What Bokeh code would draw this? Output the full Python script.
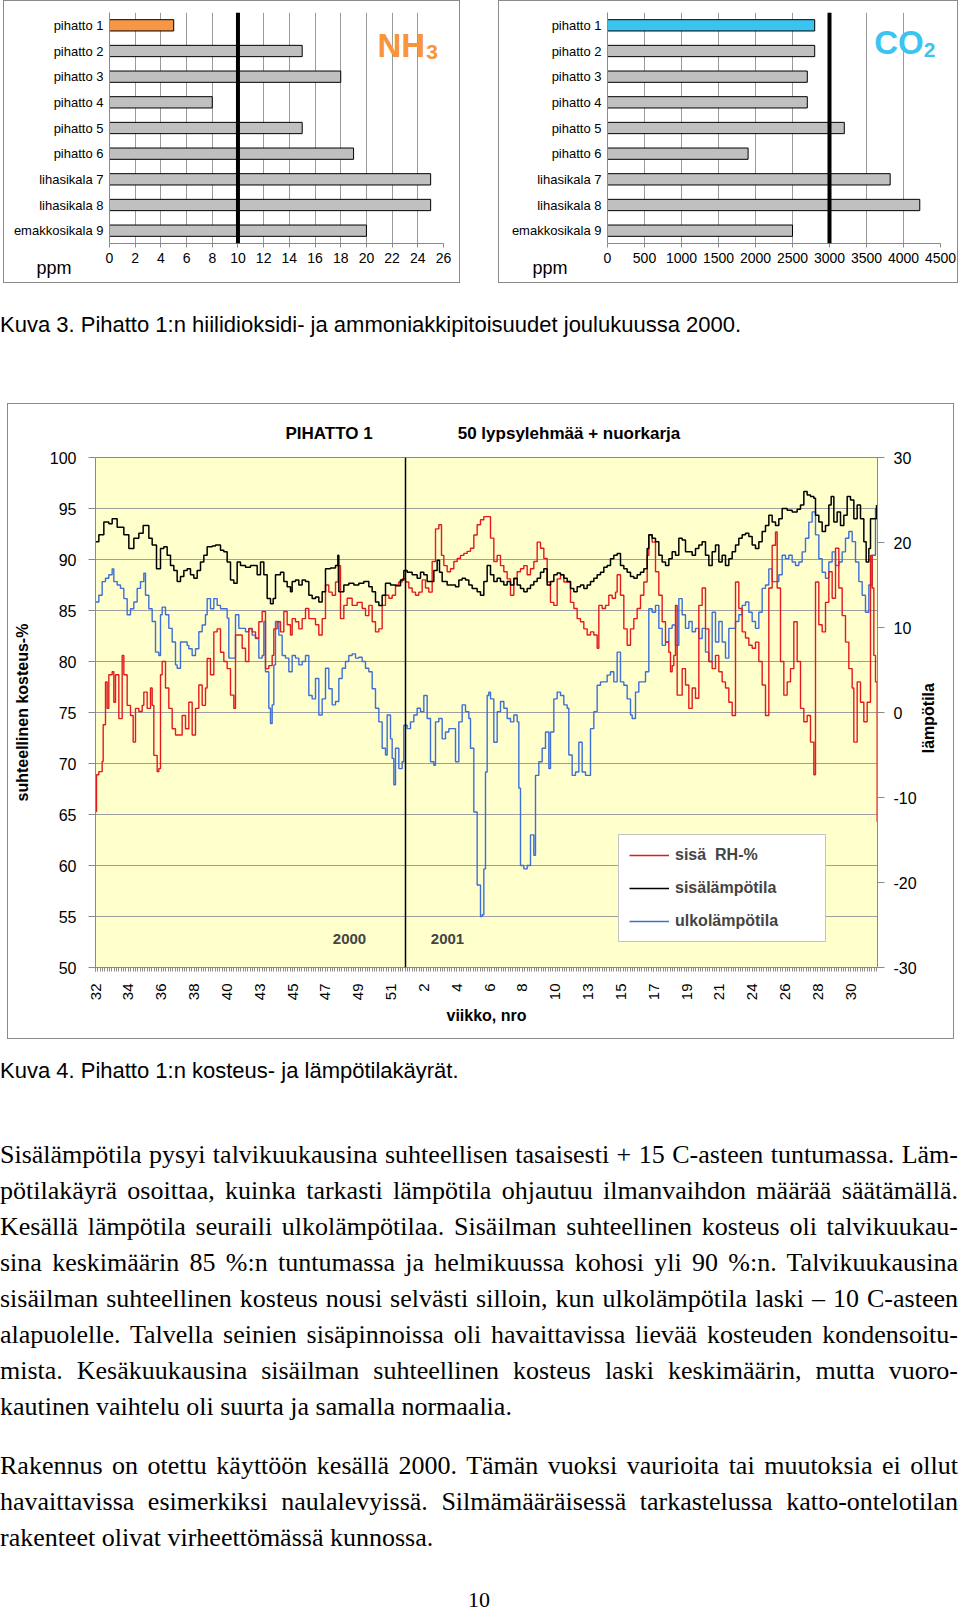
import math
from bokeh.plotting import figure
from bokeh.models import (FactorRange, Range1d, LinearAxis, FixedTicker, Span, Label,
                          Legend, LegendItem, Div, Spacer, Title)
from bokeh.layouts import column, row
from bokeh.embed import file_html
from bokeh.resources import INLINE

FONT = "Liberation Sans"

# ---------------- Kuva 3: NH3 and CO2 ----------------
kohteet = ["pihatto 1", "pihatto 2", "pihatto 3", "pihatto 4", "pihatto 5", "pihatto 6",
           "lihasikala 7", "lihasikala 8", "emakkosikala 9"]
nh3_ppm = [5, 15, 18, 8, 15, 19, 25, 25, 20]
co2_ppm = [2800, 2800, 2700, 2700, 3200, 1900, 3820, 4220, 2500]
nh3_raja = 10
co2_raja = 3000
nh3_ticks = [0, 2, 4, 6, 8, 10, 12, 14, 16, 18, 20, 22, 24, 26]
co2_ticks = [0, 500, 1000, 1500, 2000, 2500, 3000, 3500, 4000, 4500]

# ---------------- Kuva 4: time series ----------------
viikot = ["32", "34", "36", "38", "40", "43", "45", "47", "49", "51", "2", "4", "6", "8",
          "10", "13", "15", "17", "19", "21", "24", "26", "28", "30"]
rh_ticks = [50, 55, 60, 65, 70, 75, 80, 85, 90, 95, 100]
lampo_ticks = [-30, -20, -10, 0, 10, 20, 30]
vuodenvaihde = 930  # sample position of the year change

# sisä RH-% (measurement sample index, %)
rh_x = [0, 3, 10, 20, 23, 30, 35, 40, 50, 55, 60, 70, 80, 85, 95, 105, 113, 120, 130, 140,
        145, 155, 165, 170, 175, 185, 190, 195, 200, 210, 220, 230, 240, 250, 260, 270, 280, 290, 300, 310,
        320, 330, 335, 345, 355, 365, 375, 385, 395, 405, 415, 420, 430, 440, 450, 460, 470, 480, 490, 500,
        510, 520, 530, 535, 545, 555, 565, 575, 585,
        590, 600, 610, 620, 630, 640, 650, 660, 670, 680, 690, 700, 710, 720, 728, 735, 745, 755, 770, 785,
        800, 810, 820, 830, 840, 850, 860, 870, 880, 890, 900, 910, 920, 930, 940, 950, 960, 970, 980, 990,
        1000, 1010, 1020, 1030, 1038, 1045, 1055, 1065, 1075, 1085, 1095, 1105, 1115, 1125, 1135, 1145, 1155, 1165,
        1175, 1185, 1195, 1205, 1215, 1225, 1235, 1245, 1255, 1265, 1275, 1285, 1295, 1305, 1315, 1325, 1335, 1345, 1355, 1365,
        1375, 1385, 1395, 1405, 1415, 1425, 1435, 1445, 1455, 1465, 1475, 1485, 1495, 1505, 1510, 1520, 1530, 1540, 1550, 1560,
        1565, 1575, 1585, 1595, 1605, 1615, 1625, 1635, 1645, 1655, 1660, 1670, 1680, 1690, 1700, 1710, 1720, 1725, 1730, 1735,
        1740, 1745, 1750,
        1760, 1770, 1780, 1790, 1800, 1810, 1820, 1830, 1840, 1850, 1860, 1870, 1880, 1890, 1900, 1910, 1920, 1930, 1940, 1950,
        1960, 1970, 1980, 1990, 2000, 2010, 2020, 2030, 2040, 2045, 2055, 2065, 2075, 2085, 2095, 2105, 2115, 2125, 2135, 2145,
        2155, 2160, 2170, 2180, 2190, 2200, 2210, 2220, 2230, 2240, 2250, 2260, 2270, 2275, 2285, 2295, 2305, 2315, 2325, 2330,
        2335, 2340, 2345]
rh_sisa = [65.3, 68.9, 69.2, 70.2, 73.8, 78.0, 75.4, 78.7, 79.0, 76.0, 78.7, 74.4, 80.6, 78.7, 75.7, 74.7, 72.1, 75.4, 75.1, 75.7,
           77.0, 75.4, 77.4, 75.7, 70.8, 69.2, 69.5, 78.7, 80.0, 77.4, 75.4, 73.4, 72.8, 72.8, 74.7, 73.4, 76.0, 72.8, 75.4, 77.7,
           75.7, 77.4, 80.3, 78.7, 82.9, 83.2, 80.9, 80.0, 79.3, 76.7, 75.4, 82.6, 82.6, 81.3, 80.0, 83.2, 82.9, 82.3, 83.9, 84.9,
           79.3, 79.6, 80.6, 83.2, 83.9, 82.9, 84.9, 83.6, 82.6,
           84.2, 83.9, 83.2, 84.2, 85.2, 84.2, 84.2, 83.6, 82.6, 84.2, 87.5, 86.8, 86.5, 87.8, 89.4, 84.2, 85.5, 86.2, 85.5, 85.8,
           85.2, 84.5, 85.5, 83.9, 82.9, 83.2, 85.5, 86.5, 86.2, 86.5, 87.5, 87.8, 88.1, 87.8, 87.2, 86.8, 86.5, 86.8, 88.0, 87.2,
           86.8, 89.8, 93.0, 93.4, 90.4, 89.4, 88.8, 89.1, 89.8, 90.1, 90.4, 90.6, 90.8, 91.1, 92.4, 93.4, 93.9, 94.2,
           94.2, 92.1, 89.8, 90.4, 89.4, 88.8, 88.1, 86.5, 88.1, 88.8, 89.1, 89.4, 88.5, 89.1, 89.8, 91.7, 91.1, 90.1, 87.8, 85.8,
           85.5, 88.1, 88.5, 87.8, 87.8, 85.8, 85.2, 84.2, 83.9, 83.2, 82.6, 82.9, 82.6, 81.3, 85.5, 85.2, 85.5, 86.5, 86.2, 86.8,
           88.5, 86.5, 83.2, 81.6, 83.2, 84.2, 85.2, 86.5, 87.8, 90.4, 92.4, 91.7, 88.8, 86.5, 83.9, 81.9, 80.9, 79.0, 79.6, 80.6,
           85.5, 76.7, 76.7,
           79.3, 77.7, 75.4, 77.4, 76.4, 85.5, 87.2, 83.2, 80.0, 79.3, 80.6, 79.0, 78.0, 77.4, 76.0, 74.7, 87.8, 85.2, 82.9, 82.3,
           81.6, 81.3, 81.9, 80.0, 77.7, 74.7, 87.2, 91.4, 92.7, 87.2, 80.0, 76.7, 78.0, 79.3, 83.9, 80.0, 75.4, 74.1, 74.7, 72.1,
           68.9, 87.8, 83.6, 82.9, 85.8, 88.8, 86.2, 91.1, 87.2, 84.5, 81.9, 79.3, 77.4, 72.1, 78.0, 76.0, 74.1, 76.0, 90.4, 87.2,
           80.6, 78.0, 64.3]

# sisälämpötila (°C)
sisa_x = [0, 10, 25, 40, 50, 65, 85, 100, 115, 130, 143, 160, 170, 183, 195, 205, 215, 225, 235, 245,
          255, 265, 275, 285, 295, 305, 315, 325, 335, 350, 360, 375, 385, 395, 405, 415, 425, 435, 450, 465,
          475, 485, 495, 505, 515, 525, 533, 540, 555, 565, 575, 585,
          590, 600, 610, 620, 630, 640, 650, 660, 670, 680, 690, 705, 720, 727, 730, 745, 760, 775, 790, 805,
          820, 830, 840, 850, 860, 870, 885, 900, 915, 925, 935, 950, 965, 975, 985, 995, 1005, 1015, 1025, 1032,
          1040, 1055, 1070, 1080, 1090, 1100, 1110, 1120, 1130, 1145, 1155, 1165,
          1175, 1185, 1195, 1205, 1215, 1225, 1235, 1245, 1255, 1265, 1275, 1285, 1295, 1305, 1315, 1325, 1335, 1345, 1355, 1365,
          1375, 1385, 1395, 1405, 1415, 1425, 1435, 1445, 1455, 1465, 1475, 1485, 1495, 1505, 1515, 1525, 1535, 1545, 1555, 1565,
          1575, 1585, 1595, 1605, 1615, 1625, 1635, 1645, 1655, 1660, 1670, 1680, 1690, 1700, 1710, 1720, 1730, 1740, 1750,
          1760, 1770, 1780, 1790, 1800, 1810, 1820, 1830, 1840, 1850, 1860, 1870, 1880, 1890, 1900, 1910, 1920, 1930, 1940, 1950,
          1960, 1970, 1980, 1990, 2000, 2010, 2020, 2030, 2040, 2050, 2060,
          2075, 2090, 2105, 2115, 2125, 2135, 2145, 2155, 2160, 2170, 2180, 2190, 2200, 2207, 2215, 2225, 2235, 2245, 2255, 2265,
          2275, 2285, 2295, 2305, 2312, 2320, 2325, 2335, 2343]
lampo_sisa = [20.1, 20.9, 22.4, 22.2, 22.8, 21.8, 20.9, 19.3, 20.5, 21.1, 22.0, 20.5, 19.7, 16.9, 19.3, 19.5, 18.5, 17.3, 16.7, 15.4,
              16.0, 16.7, 16.9, 16.2, 15.8, 16.7, 17.7, 18.5, 19.5, 19.6, 19.7, 19.1, 18.9, 17.7, 15.6, 15.2, 17.7, 17.3, 17.1, 17.3,
              17.3, 16.2, 17.7, 16.2, 13.4, 12.8, 13.4, 16.2, 16.5, 15.4, 14.8, 14.2,
              15.4, 15.6, 15.0, 15.6, 15.4, 13.8, 13.4, 13.6, 13.0, 14.2, 16.9, 17.0, 17.3, 18.5, 14.2, 15.0, 15.2, 15.0, 15.2, 15.4,
              14.8, 14.2, 13.0, 12.6, 13.8, 15.2, 15.0, 14.9, 15.6, 16.7, 16.5, 16.2, 15.8, 16.5, 16.2, 15.4, 15.4, 16.7, 17.9, 16.5,
              15.4, 15.0, 15.0, 14.8, 15.6, 15.8, 15.6, 15.0, 14.6, 14.2, 13.8, 15.4,
              17.3, 16.2, 15.4, 15.8, 15.4, 15.0, 15.4, 15.0, 15.8, 15.0, 14.6, 14.2, 14.6, 15.0, 15.4, 15.8, 16.5, 16.9, 15.0, 15.4,
              16.2, 16.4, 16.2, 15.8, 15.4, 14.6, 14.2, 14.8, 15.0, 14.6, 15.0, 15.4, 15.8, 16.2, 16.5, 17.1, 17.3, 18.1, 18.5, 18.7,
              17.3, 16.9, 16.5, 16.0, 15.8, 16.2, 16.5, 16.9, 19.3, 20.9, 20.5, 20.1, 18.5, 17.7, 17.3, 18.1, 18.9, 18.5, 20.5,
              20.3, 18.9, 18.9, 18.5, 19.3, 19.7, 20.1, 18.5, 17.3, 18.9, 19.7, 17.7, 18.5, 17.3, 18.1, 18.9, 19.7, 20.5, 20.9, 21.1,
              20.7, 19.7, 19.3, 20.1, 21.3, 22.0, 23.2, 22.4, 22.0, 22.8, 24.0,
              23.8, 23.6, 23.9, 24.4, 26.0, 25.6, 25.4, 25.2, 23.2, 22.4, 21.3, 22.0, 24.4, 25.4, 22.4, 23.6, 22.0, 23.2, 25.4, 25.0,
              22.8, 24.4, 22.8, 20.1, 17.7, 19.3, 22.8, 22.8, 24.4]

# ulkolämpötila (°C)
ulko_x = [0, 10, 20, 30, 40, 50, 55, 65, 75, 85, 95, 105, 115, 125, 135, 145, 150, 160, 170, 180,
          190, 195, 200, 210, 220, 230, 240, 245, 255, 265, 275, 280, 290, 300, 310, 320, 330, 335, 345, 355,
          365, 375, 385, 395, 400, 410, 420, 430, 440, 450, 460, 470, 480, 490, 500, 505, 510, 520, 525, 530,
          535, 540, 550, 560, 570, 580,
          590, 600, 610, 620, 630, 640, 650, 660, 670, 680, 690, 700, 710, 720, 730, 740, 750, 760, 770, 780,
          790, 800, 810, 820, 830, 840, 850, 860, 870, 875, 885, 890, 895, 900, 910, 920, 925, 935, 945, 955,
          965, 975, 985, 995, 1005, 1015, 1020, 1030, 1040, 1050, 1060, 1070, 1080, 1090, 1100, 1110, 1120, 1125, 1135, 1145,
          1155, 1160, 1165, 1170,
          1175, 1180, 1185, 1195, 1205, 1215, 1225, 1235, 1245, 1255, 1265, 1270, 1275, 1285, 1295, 1305, 1315, 1320, 1330, 1340,
          1350, 1360, 1365, 1375, 1385, 1395, 1405, 1415, 1420, 1430, 1440, 1450, 1460, 1470, 1480, 1485, 1495, 1505, 1515, 1525,
          1535, 1545, 1555, 1565, 1575, 1585, 1595, 1605, 1610, 1620, 1630, 1640, 1650, 1660, 1670, 1680, 1690, 1700, 1710, 1720,
          1730, 1740, 1750,
          1760, 1770, 1780, 1790, 1800, 1810, 1820, 1830, 1840, 1850, 1860, 1870, 1880, 1890, 1900, 1910, 1920, 1930, 1940, 1950,
          1960, 1970, 1980, 1990, 2000, 2010, 2020, 2030, 2040, 2050, 2060, 2070, 2080, 2090, 2100, 2110, 2120, 2130, 2140, 2150,
          2160, 2170, 2180, 2190, 2200, 2210, 2220, 2230, 2240, 2250, 2260, 2270, 2280, 2290, 2300, 2310, 2320, 2330, 2340]
lampo_ulko = [13.0, 13.8, 15.4, 15.8, 16.2, 16.9, 15.4, 15.0, 14.6, 13.4, 11.5, 12.2, 13.0, 14.6, 15.4, 16.4, 13.8, 12.2, 10.7, 7.1,
              6.7, 11.5, 12.4, 11.5, 9.9, 8.3, 5.6, 5.2, 8.3, 8.3, 7.9, 7.5, 6.7, 7.5, 9.5, 10.3, 11.5, 13.4, 12.2, 13.4,
              12.6, 12.2, 12.2, 11.1, 6.4, 6.4, 11.5, 9.9, 9.9, 9.5, 9.9, 9.1, 8.7, 6.4, 6.7, 10.7, 4.8, 0.5, -1.3, 0.9,
              5.6, 10.7, 9.1, 6.7, 6.4, 4.8,
              6.7, 6.4, 5.6, 6.0, 6.7, 2.0, 1.6, 4.0, -0.3, 1.6, 5.2, 2.8, 0.9, 1.3, 4.0, 5.2, 6.0, 6.7, 6.9, 6.4,
              6.5, 6.0, 5.2, 4.8, 2.8, 0.5, -1.1, -4.2, -5.0, -0.3, -3.1, -5.4, -8.5, -4.2, -6.6, -5.8, -1.5, -1.9, -1.1, -0.3,
              0.5, 0.1, 2.0, -0.7, -5.8, -6.2, -1.1, -0.7, -3.1, -2.3, -1.9, -1.9, -5.8, -1.1, 0.9, 0.1, -0.7, -4.2, -11.7, -20.3,
              -24.0, -23.8, -18.4, -7.0,
              2.0, 2.4, 1.6, -3.5, 0.1, 1.3, 0.5, -0.7, -1.1, -0.3, -1.1, -8.9, -18.0, -18.4, -18.0, -14.4, -16.8, -7.4, -5.8, -4.2,
              -2.3, -6.6, -2.3, 1.6, 2.4, 2.0, 0.9, 0.5, -5.0, -7.4, -7.0, -3.5, -7.0, -7.4, -7.4, -1.9, 0.1, 3.2, 3.6, 3.6,
              4.4, 4.8, 3.6, 7.1, 3.6, 3.2, 1.6, -0.3, -0.7, 2.4, 3.6, 3.6, 4.8, 12.2, 11.8, 12.6, 9.9, 7.9, 8.3, 9.9,
              10.3, 7.9, 13.4,
              11.5, 9.9, 10.7, 9.5, 9.9, 8.7, 9.9, 7.1, 6.0, 11.8, 8.3, 10.7, 8.3, 6.4, 9.9, 9.9, 10.7, 11.5, 12.6, 13.0,
              11.8, 10.7, 9.9, 11.8, 14.6, 15.0, 16.9, 15.4, 15.4, 16.2, 18.5, 18.1, 18.5, 17.7, 17.3, 17.7, 18.9, 20.5, 22.4, 23.6,
              20.9, 18.1, 16.5, 15.8, 17.7, 18.9, 17.3, 17.7, 18.9, 20.5, 21.3, 20.1, 17.7, 15.4, 13.8, 11.8, 15.0, 18.5, 24.0]

X_END = 2346          # last sample on the axis
TICK_STEP = 98.5      # samples between week labels
BORDER = "1px solid #8a8a8a"
LAMPO_LABEL_POS = -4.8   # where the rotated right-hand axis title starts (temperature units)


def boxed(fig):
    return column(fig, spacing=0, styles={"border": BORDER})


def bar_chart(values, xmax, ticks, limit, hi_color, width, mb_left, mb_right,
              gas, sub, gas_color, gas_x, gas_y, sub_x, sub_y, ppm_offset):
    p = figure(width=width, height=281, x_range=Range1d(0, xmax),
               y_range=FactorRange(factors=list(reversed(kohteet))),
               output_backend="svg", toolbar_location=None,
               min_border_left=mb_left, min_border_right=mb_right,
               min_border_top=11, min_border_bottom=39, outline_line_color=None)
    colors = [hi_color] + ["#C0C0C0"] * (len(values) - 1)
    p.hbar(y=kohteet, left=0, right=values, height=0.44, fill_color=colors,
           line_color="black", line_width=1)
    p.xaxis.ticker = FixedTicker(ticks=ticks)
    p.xgrid.ticker = FixedTicker(ticks=ticks)
    p.xgrid.grid_line_color = "#9a9a9a"
    p.ygrid.grid_line_color = None
    for ax in (p.xaxis[0], p.yaxis[0]):
        ax.major_label_text_font = FONT
        ax.major_label_text_color = "black"
        ax.axis_line_color = "#8a8a8a"
        ax.major_tick_line_color = "#8a8a8a"
        ax.minor_tick_line_color = None
    p.xaxis.major_label_text_font_size = "14px"
    p.yaxis.major_label_text_font_size = "13px"
    p.xaxis.major_tick_out = 4
    p.xaxis.major_tick_in = 0
    p.xaxis.major_label_standoff = 5
    p.yaxis.major_tick_out = 0
    p.yaxis.major_tick_in = 0
    p.yaxis.major_label_standoff = 6
    p.add_layout(Span(location=limit, dimension="height", line_color="black", line_width=4))
    p.add_layout(Label(x=gas_x, y=gas_y, text=gas, text_font=FONT, text_font_style="bold",
                       text_font_size="33px", text_color=gas_color, text_baseline="alphabetic"))
    p.add_layout(Label(x=sub_x, y=sub_y, text=sub, text_font=FONT, text_font_style="bold",
                       text_font_size="21px", text_color=gas_color, text_baseline="alphabetic"))
    p.add_layout(Title(text="ppm", align="left", offset=ppm_offset, standoff=-25,
                       text_font=FONT, text_font_size="18px", text_font_style="normal",
                       text_color="black"), "below")
    return p


p_nh3 = bar_chart(nh3_ppm, 26, nh3_ticks, nh3_raja, "#F79646", 455, 105, 16,
                  "NH", "3", "#F7943C", 20.86, 7.72, 24.65, 7.48, -73)
p_co2 = bar_chart(co2_ppm, 4500, co2_ticks, co2_raja, "#3CC4F0", 458, 108, 17,
                  "CO", "2", "#3CC4F0", 3605, 7.83, 4275, 7.52, -75)

# ---------------- main chart ----------------
p = figure(width=945, height=634, x_range=Range1d(0, X_END), y_range=Range1d(50, 100),
           output_backend="svg", toolbar_location=None,
           min_border_left=87, min_border_right=76, min_border_top=53, min_border_bottom=71,
           background_fill_color="#FFFFCC", outline_line_color="#8a8a8a",
           title="PIHATTO 1" + "\u00a0" * 18 + "50 lypsylehmää + nuorkarja")
p.title.align = "left"
p.title.offset = 190
p.title.standoff = 29
p.title.text_font = FONT
p.title.text_font_size = "17px"
p.title.text_font_style = "bold"
p.title.text_color = "black"

p.extra_y_ranges = {"temp": Range1d(-30, 30)}

r_ulko = p.step(ulko_x, lampo_ulko, mode="after", line_color="#3D6FD8", line_width=1.4,
                y_range_name="temp")
r_rh = p.step(rh_x, rh_sisa, mode="after", line_color="#E41A1C", line_width=1.4)
r_sisa = p.step(sisa_x, lampo_sisa, mode="after", line_color="black", line_width=1.5,
                y_range_name="temp")

p.add_layout(Span(location=vuodenvaihde, dimension="height", line_color="black", line_width=1.5))

major = [i * TICK_STEP for i in range(len(viikot))]
minor = [k * TICK_STEP / 14 for k in range(0, 14 * len(viikot)) if k * TICK_STEP / 14 <= X_END]
p.xaxis.ticker = FixedTicker(ticks=major, minor_ticks=minor)
p.xaxis.major_label_overrides = {t: lab for t, lab in zip(major, viikot)}
p.xaxis.major_label_orientation = math.pi / 2
p.xaxis.axis_label = "viikko, nro"
p.xgrid.grid_line_color = None

p.yaxis.ticker = FixedTicker(ticks=rh_ticks)
p.ygrid.ticker = FixedTicker(ticks=rh_ticks)
p.ygrid.grid_line_color = "#9e9e9e"
p.yaxis.axis_label = "suhteellinen kosteus-%"

ax_r = LinearAxis(y_range_name="temp", ticker=FixedTicker(ticks=lampo_ticks))
ax_r.major_label_overrides = {t: str(t) for t in lampo_ticks}
p.add_layout(ax_r, "right")

# rotated title of the temperature axis (reads bottom-to-top like the original)
ax_t = LinearAxis(y_range_name="temp", ticker=FixedTicker(ticks=[LAMPO_LABEL_POS], minor_ticks=[]))
ax_t.major_label_overrides = {LAMPO_LABEL_POS: "lämpötila"}
ax_t.major_label_orientation = math.pi / 2
ax_t.axis_line_color = None
ax_t.major_tick_line_color = None
ax_t.minor_tick_line_color = None
ax_t.major_tick_out = 0
ax_t.major_tick_in = 0
ax_t.major_label_standoff = 9
ax_t.major_label_text_font = FONT
ax_t.major_label_text_font_style = "bold"
ax_t.major_label_text_font_size = "16px"
ax_t.major_label_text_color = "black"
p.add_layout(ax_t, "right")

for ax in p.xaxis + p.yaxis:
    if ax is ax_t:
        continue
    ax.major_label_text_font = FONT
    ax.major_label_text_color = "black"
    ax.axis_label_text_font = FONT
    ax.axis_label_text_font_style = "bold"
    ax.axis_label_text_font_size = "16px"
    ax.axis_label_text_color = "black"
    ax.axis_line_color = "#8a8a8a"
    ax.major_tick_line_color = "#8a8a8a"
    ax.minor_tick_line_color = None

for ax in (p.yaxis[0], ax_r):
    ax.major_label_text_font_size = "16px"
    ax.major_tick_out = 7
    ax.major_tick_in = 0
p.yaxis[0].major_label_standoff = 12
p.yaxis[0].axis_label_standoff = 16
ax_r.major_label_standoff = 9

p.xaxis.major_label_text_font_size = "15px"
p.xaxis.major_tick_out = 4
p.xaxis.major_tick_in = 0
p.xaxis.minor_tick_out = 4
p.xaxis.minor_tick_in = 0
p.xaxis.minor_tick_line_color = "#8a8a8a"
p.xaxis.major_label_standoff = 12
p.xaxis.axis_label_standoff = 4

p.add_layout(Label(x=762, y=52.8, text="2000", text_font=FONT, text_font_style="bold",
                   text_font_size="15px", text_align="center", text_baseline="middle"))
p.add_layout(Label(x=1056, y=52.8, text="2001", text_font=FONT, text_font_style="bold",
                   text_font_size="15px", text_align="center", text_baseline="middle"))

legend = Legend(items=[LegendItem(label="sisä  RH-%", renderers=[r_rh]),
                       LegendItem(label="sisälämpötila", renderers=[r_sisa]),
                       LegendItem(label="ulkolämpötila", renderers=[r_ulko])],
                location=(523, 25))
legend.label_text_font = FONT
legend.label_text_font_style = "bold"
legend.label_text_font_size = "16px"
legend.glyph_width = 40
legend.glyph_height = 20
legend.label_height = 20
legend.label_width = 140
legend.spacing = 13
legend.padding = 10
legend.margin = 0
legend.label_standoff = 6
legend.border_line_color = "#8a8a8a"
legend.background_fill_color = "white"
legend.background_fill_alpha = 1
p.add_layout(legend)

# ---------------- text ----------------
cap3 = Div(width=958, height=120, margin=0, text=(
    "<div style=\"font-family:'Liberation Sans',Arial,sans-serif;font-size:22px;line-height:24px;"
    "padding-top:30px;color:#000;white-space:nowrap\">"
    "Kuva 3. Pihatto 1:n hiilidioksidi- ja ammoniakkipitoisuudet joulukuussa 2000.</div>"))

p1_lines = [
    "Sisälämpötila pysyi talvikuukausina suhteellisen tasaisesti + 15 C-asteen tuntumassa. Läm-",
    "pötilakäyrä osoittaa, kuinka tarkasti lämpötila ohjautuu ilmanvaihdon määrää säätämällä.",
    "Kesällä lämpötila seuraili ulkolämpötilaa. Sisäilman suhteellinen kosteus oli talvikuukau-",
    "sina keskimäärin 85 %:n tuntumassa ja helmikuussa kohosi yli 90 %:n. Talvikuukausina",
    "sisäilman suhteellinen kosteus nousi selvästi silloin, kun ulkolämpötila laski – 10 C-asteen",
    "alapuolelle. Talvella seinien sisäpinnoissa oli havaittavissa lievää kosteuden kondensoitu-",
    "mista. Kesäkuukausina sisäilman suhteellinen kosteus laski keskimäärin, mutta vuoro-",
    "kautinen vaihtelu oli suurta ja samalla normaalia.",
]
p2_lines = [
    "Rakennus on otettu käyttöön kesällä 2000. Tämän vuoksi vaurioita tai muutoksia ei ollut",
    "havaittavissa esimerkiksi naulalevyissä. Silmämääräisessä tarkastelussa katto-ontelotilan",
    "rakenteet olivat virheettömässä kunnossa.",
]


def para(lines):
    out = []
    for i, ln in enumerate(lines):
        al = "left" if i == len(lines) - 1 else "justify"
        out.append(f"<div style=\"height:36px;line-height:36px;text-align:{al};"
                   f"text-align-last:{al};white-space:nowrap\">{ln}</div>")
    return "".join(out)


body = Div(width=958, height=570, margin=0, text=(
    "<div style=\"width:958px;font-family:'Liberation Serif','Times New Roman',serif;"
    "font-size:26px;color:#000\">"
    "<div style=\"font-family:'Liberation Sans',Arial,sans-serif;font-size:22px;line-height:24px;"
    "padding-top:20px;white-space:nowrap\">Kuva 4. Pihatto 1:n kosteus- ja lämpötilakäyrät.</div>"
    f"<div style=\"padding-top:54px\">{para(p1_lines)}</div>"
    f"<div style=\"padding-top:23px\">{para(p2_lines)}</div>"
    "<div style=\"padding-top:35px;line-height:18px;font-size:22px;text-align:center\">10</div>"
    "</div>"))

top = row(Spacer(width=3, height=283), boxed(p_nh3), Spacer(width=38, height=283), boxed(p_co2),
          spacing=0)
mid = row(Spacer(width=7, height=636), boxed(p), spacing=0)
layout = column(top, cap3, mid, body, spacing=0)

open("out.html", "w").write(file_html(layout, INLINE))
